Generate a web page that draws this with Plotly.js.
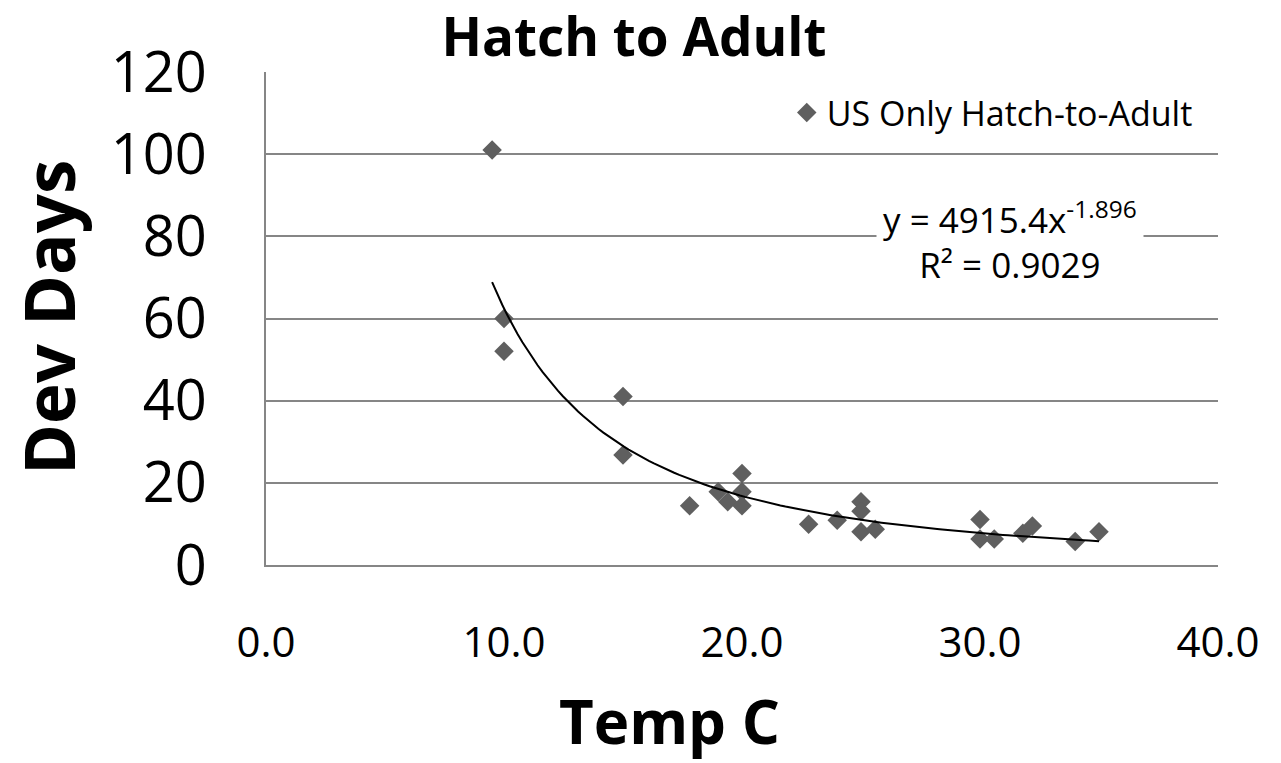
<!DOCTYPE html>
<html>
<head>
<meta charset="utf-8">
<script src="https://cdn.plot.ly/plotly-3.0.1.min.js"></script>
<style>
  html, body { margin: 0; padding: 0; background: #ffffff; }
  #chart { width: 1281px; height: 763px; }
</style>
</head>
<body>
<div id="chart"></div>
<script>
// Observed data: temperature (°C) vs development days (hatch to adult)
const tempC = [9.5, 10.0, 10.0, 15.0, 15.0, 17.8, 19.0, 19.4, 20.0, 20.0, 20.0,
               22.8, 24.0, 25.0, 25.0, 25.0, 25.6, 30.0, 30.0, 30.6, 31.8, 32.2, 34.0, 35.0];
const devDays = [101, 60, 52, 41, 26.8, 14.4, 17.8, 15.4, 22.3, 17.8, 14.4,
                 9.9, 10.9, 15.4, 13.1, 8.1, 8.7, 11.1, 6.3, 6.3, 7.7, 9.5, 5.7, 8.1];

// Power trendline as printed on the chart: y = 4915.4 x^-1.896, R² = 0.9029
const fitA = 4915.4;
const fitB = -1.896;
const fitR2 = 0.9029;

const xTickVals = [0, 10, 20, 30, 40];
const xTickText = ['0.0', '10.0', '20.0', '30.0', '40.0'];
const yTickVals = [0, 20, 40, 60, 80, 100, 120];

const chartTitle = 'Hatch to Adult';
const xTitle = 'Temp C';
const yTitle = 'Dev Days';
const seriesName = 'US Only Hatch-to-Adult';

// Trendline samples over the observed temperature span
const xMin = Math.min(...tempC), xMax = Math.max(...tempC);
const fitX = [], fitY = [];
const nFit = 120;
for (let i = 0; i <= nFit; i++) {
  const x = xMin + (xMax - xMin) * i / nFit;
  fitX.push(x);
  fitY.push(fitA * Math.pow(x, fitB));
}

const FONT = 'Open Sans, Noto Sans, sans-serif';
const GRID = '#868686';

const traces = [
  {
    x: tempC, y: devDays, type: 'scatter', mode: 'markers',
    name: seriesName,
    marker: { symbol: 'diamond', size: 15, color: '#5f5f5f', line: { width: 0 } },
    hoverinfo: 'x+y'
  },
  {
    x: fitX, y: fitY, type: 'scatter', mode: 'lines',
    name: 'Power fit', showlegend: false,
    line: { color: '#000000', width: 2 },
    hoverinfo: 'skip'
  }
];

const layout = {
  width: 1281, height: 763,
  paper_bgcolor: '#ffffff', plot_bgcolor: '#ffffff',
  margin: { l: 266, r: 63, t: 72, b: 198, pad: 0 },
  font: { family: FONT, color: '#000000' },
  title: {
    text: '<b>' + chartTitle + '</b>',
    font: { family: FONT, size: 53, color: '#000000' },
    x: 634 / 1281, xref: 'container', xanchor: 'center',
    y: 1 - 37 / 763, yref: 'container', yanchor: 'middle'
  },
  xaxis: {
    range: [0, 40], tickvals: xTickVals, ticktext: xTickText,
    showgrid: false, zeroline: false,
    showline: true, linecolor: GRID, linewidth: 2,
    ticks: '', ticklabelstandoff: 40,
    tickfont: { family: FONT, size: 42, color: '#000000' }
  },
  yaxis: {
    range: [0, 120], tickvals: yTickVals,
    showgrid: true, gridcolor: GRID, gridwidth: 1.5,
    zeroline: false,
    showline: true, linecolor: GRID, linewidth: 2,
    ticks: '', ticklabelstandoff: 46,
    tickfont: { family: FONT, size: 56, color: '#000000' }
  },
  showlegend: true,
  legend: {
    x: 0.547, xanchor: 'left', y: 0.917, yanchor: 'middle',
    bgcolor: 'rgba(0,0,0,0)', borderwidth: 0,
    font: { family: FONT, size: 34, color: '#000000' }
  },
  annotations: [
    {
      x: 31.26, y: 79.1, xref: 'x', yref: 'y', showarrow: false,
      text: 'y = ' + fitA.toFixed(1) + 'x<sup>' + fitB.toFixed(3) + '</sup><br>R² = ' + fitR2.toFixed(4),
      align: 'center',
      font: { family: FONT, size: 35, color: '#000000' },
      bgcolor: '#ffffff', borderpad: 6
    },
    {
      x: (669 - 266) / 952, y: (565 - 721) / 493, xref: 'paper', yref: 'paper',
      xanchor: 'center', yanchor: 'middle', showarrow: false,
      text: '<b>' + xTitle + '</b>',
      font: { family: FONT, size: 60, color: '#000000' }
    },
    {
      x: (48 - 266) / 952, y: (565 - 318) / 493, xref: 'paper', yref: 'paper',
      xanchor: 'center', yanchor: 'middle', showarrow: false, textangle: -90,
      text: '<b>' + yTitle + '</b>',
      font: { family: FONT, size: 69, color: '#000000' }
    }
  ]
};

Plotly.newPlot('chart', traces, layout, { displayModeBar: false });
</script>
</body>
</html>
